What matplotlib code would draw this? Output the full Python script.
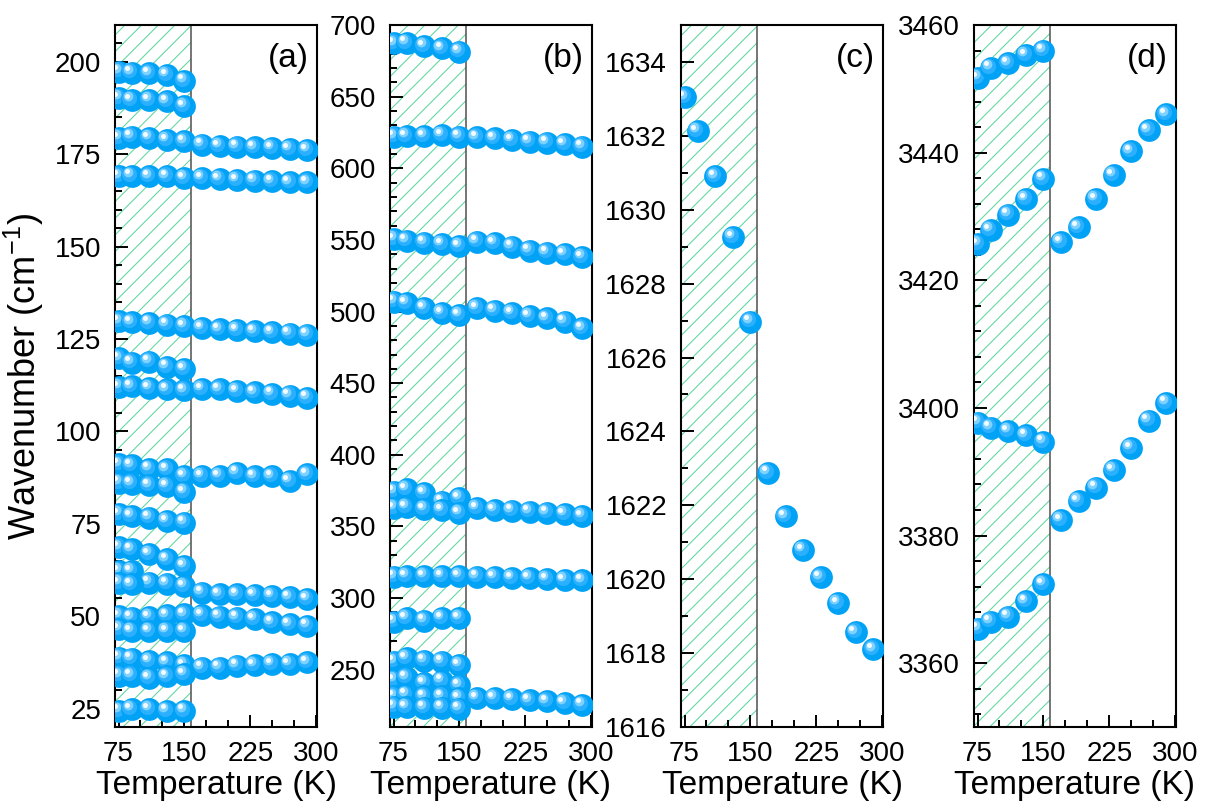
import numpy as np
import matplotlib
matplotlib.use("Agg")
import matplotlib.pyplot as plt
from matplotlib.ticker import MultipleLocator
from matplotlib.transforms import offset_copy

plt.rcParams['font.family'] = ['Liberation Sans', 'DejaVu Sans']
plt.rcParams['mathtext.fontset'] = 'custom'
plt.rcParams['mathtext.rm'] = 'Liberation Sans'
plt.rcParams['hatch.linewidth'] = 0.8

n = np.nan

# temperature points (K)
temps = [76, 90, 110, 130, 150, 170, 190, 210, 230, 250, 270, 290]
t_split = 158  # edge of the hatched low-temperature region

# (a) low-frequency modes, cm-1 (nan = mode not seen)
modes_a = [
    [197.4, 197.1, 196.9, 196.5, 194.9, n, n, n, n, n, n, n],
    [190.2, 189.7, 189.7, 189.3, 188.1, n, n, n, n, n, n, n],
    [179.4, 179.8, 179.4, 178.9, 178.5, 177.6, 177.3, 177.1, 176.9, 176.7, 176.4, 176.2],
    [169.0, 169.2, 169.0, 169.0, 168.6, 168.6, 168.3, 168.1, 167.9, 167.7, 167.4, 167.4],
    [129.8, 129.5, 129.4, 128.9, 128.5, 128.0, 127.6, 127.4, 127.1, 126.8, 126.5, 126.2],
    [119.8, 118.6, 118.9, 117.5, 116.9, n, n, n, n, n, n, n],
    [112.0, 112.2, 111.8, 111.4, 111.1, 111.5, 111.4, 110.9, 110.6, 110.2, 109.7, 109.1],
    [91.1, 90.8, 89.9, 89.7, 87.9, 87.9, 87.9, 88.8, 87.8, 87.8, 86.6, 88.4],
    [86.1, 85.9, 85.4, 85.2, 83.6, n, n, n, n, n, n, n],
    [77.6, 77.1, 76.7, 75.8, 75.3, n, n, n, n, n, n, n],
    [68.6, 68.1, 66.8, 65.4, 63.6, n, n, n, n, n, n, n],
    [62.2, 62.2, 59.1, 58.8, 58.2, n, n, n, n, n, n, n],
    [59.0, 58.6, n, n, n, n, n, n, n, n, n, n],
    [n, n, n, n, n, 56.4, 55.9, 55.9, 55.7, 55.5, 55.1, 54.6],
    [50.0, 49.6, 49.8, 50.2, 50.5, 50.3, 49.9, 49.6, 49.2, 48.3, 47.8, 47.4],
    [46.5, 46.0, 46.0, 46.0, 46.0, n, n, n, n, n, n, n],
    [38.8, 38.5, 37.9, 37.5, 36.8, 36.1, 36.1, 36.6, 36.8, 37.0, 37.0, 37.5],
    [33.9, 33.9, 33.2, 33.7, 34.3, n, n, n, n, n, n, n],
    [24.4, 24.9, 24.9, 24.4, 24.4, n, n, n, n, n, n, n],
]

# (b) mid-frequency modes
modes_b = [
    [687.2, 687.6, 685.3, 683.7, 681.4, n, n, n, n, n, n, n],
    [622.1, 622.5, 622.5, 623.2, 622.1, 621.6, 620.9, 619.7, 618.6, 617.9, 617.0, 615.1],
    [550.5, 549.5, 548.1, 547.2, 545.8, 548.8, 547.7, 545.3, 542.5, 541.1, 540.2, 537.9],
    [506.9, 505.8, 502.3, 498.8, 497.6, 502.3, 500.6, 498.8, 496.9, 495.3, 493.0, 488.3],
    [374.3, 376.0, 373.2, 367.3, 369.7, n, n, n, n, n, n, n],
    [362.7, 363.4, 362.0, 361.6, 359.3, 362.7, 361.6, 361.1, 360.4, 359.7, 358.8, 357.4],
    [315.0, 315.5, 315.5, 315.5, 315.5, 315.0, 314.6, 313.9, 313.9, 313.2, 312.7, 312.3],
    [283.6, 286.0, 284.3, 286.0, 286.0, n, n, n, n, n, n, n],
    [255.7, 258.1, 256.4, 255.7, 253.4, n, n, n, n, n, n, n],
    [242.9, 244.5, 240.7, 242.3, 239.0, n, n, n, n, n, n, n],
    [231.3, 232.5, 231.3, 231.3, 230.1, 230.1, 230.1, 229.4, 228.5, 227.8, 226.7, 225.5],
    [224.3, 223.8, 223.5, 223.5, 222.8, n, n, n, n, n, n, n],
]

# (c) H-O-H bending mode
modes_c = [
    [1633.04, 1632.13, 1630.90, 1629.26, 1626.97, 1622.88, 1621.70, 1620.79,
     1620.05, 1619.36, 1618.56, 1618.10],
]

# (d) O-H stretching modes
modes_d = [
    [3451.7, 3453.3, 3454.0, 3455.3, 3456.0, n, n, n, n, n, n, n],
    [3425.7, 3427.9, 3430.3, 3432.7, 3435.9, 3426.0, 3428.3, 3432.7, 3436.5, 3440.2, 3443.5, 3446.0],
    [3397.7, 3396.9, 3396.4, 3395.7, 3394.7, n, n, n, n, n, n, n],
    [3365.4, 3366.5, 3367.3, 3369.7, 3372.4, 3382.4, 3385.4, 3387.5, 3390.3, 3393.7, 3398.0, 3400.8],
]

panels = [
    ('(a)', modes_a, (20, 210), 25, 5),
    ('(b)', modes_b, (210, 700), 50, 10),
    ('(c)', modes_c, (1616, 1635), 2, 1),
    ('(d)', modes_d, (3350, 3460), 20, 4),
]
lefts = [115, 390, 681, 974]

W, H = 1217, 807
fig = plt.figure(figsize=(W / 100, H / 100), dpi=100)

# shaded sphere look: base disc + lighter discs shifted to upper left
layers = [(16.4, '#00A2F6', 0, 0),
          (11.0, '#2AB0FF', -1.6, 1.6),
          (7.0, '#7FD1FF', -2.7, 2.7),
          (3.6, '#F2FBFF', -3.1, 3.1)]


def draw_balls(ax, x, y):
    trs = [offset_copy(ax.transData, fig=fig, x=dx, y=dy, units='points')
           for _, _, dx, dy in layers]
    for xi, yi in zip(x, y):
        if np.isnan(yi):
            continue
        for (ms, c, _, _), tr in zip(layers, trs):
            ax.plot([xi], [yi], 'o', ms=ms, color=c, mec='none',
                    transform=tr, zorder=3)


for i, (label, modes, ylim, major, minor) in enumerate(panels):
    ax = fig.add_axes([lefts[i] / W, 80 / H, 202 / W, 702 / H])
    ax.axvspan(60, t_split, facecolor='none', edgecolor='#66D8A6',
               hatch='//', linewidth=0, zorder=1)
    ax.axvline(t_split, color='#505050', lw=1.1, zorder=2)
    for row in modes:
        draw_balls(ax, temps, row)

    ax.set_xlim(71, 301)
    ax.set_ylim(*ylim)
    ax.xaxis.set_major_locator(MultipleLocator(75))
    ax.xaxis.set_minor_locator(MultipleLocator(25))
    ax.yaxis.set_major_locator(MultipleLocator(major))
    ax.yaxis.set_minor_locator(MultipleLocator(minor))
    ax.tick_params(which='both', direction='in', top=False, right=False,
                   width=1.4, labelsize=20, pad=10)
    ax.tick_params(which='major', length=9)
    ax.tick_params(which='minor', length=4.8)
    for sp in ax.spines.values():
        sp.set_linewidth(1.5)
    ax.set_xlabel('Temperature (K)', fontsize=24, labelpad=2)
    ax.text(0.96, 0.975, label, transform=ax.transAxes, ha='right', va='top',
            fontsize=24)
    if i == 0:
        ax.set_ylabel('Wavenumber (cm$^{-1}$)', fontsize=26, labelpad=6)

fig.savefig('out.png', dpi=100)
